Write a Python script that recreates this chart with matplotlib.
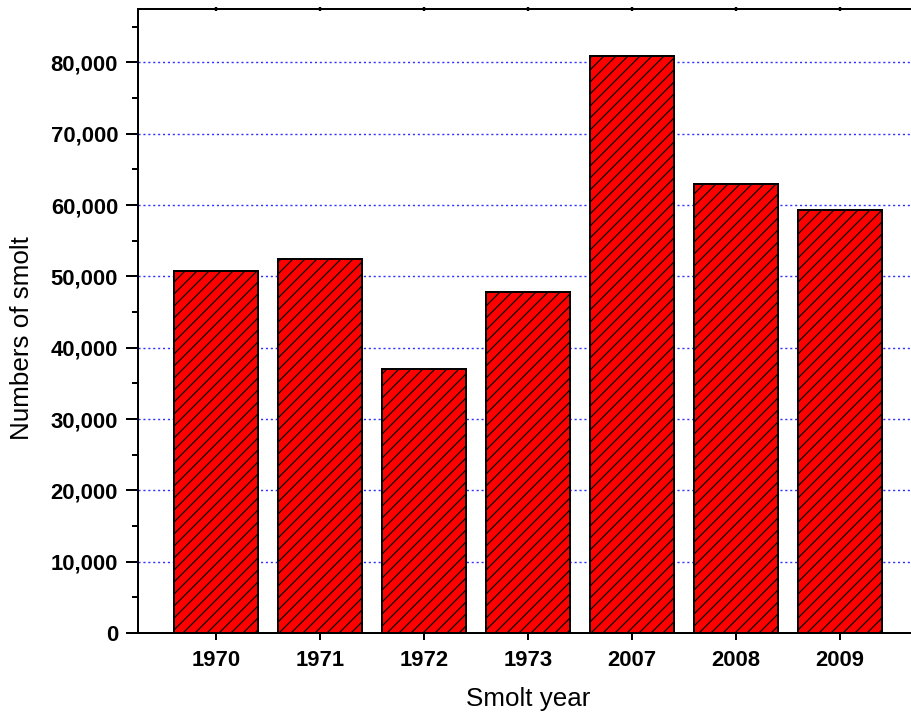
import matplotlib
matplotlib.use("Agg")
import matplotlib.pyplot as plt
from matplotlib.ticker import MultipleLocator, FuncFormatter

# smolt counts per year
years = ["1970", "1971", "1972", "1973", "2007", "2008", "2009"]
smolts = [50700, 52500, 37000, 47750, 80900, 62900, 59250]

plt.rcParams["font.family"] = ["Liberation Sans", "DejaVu Sans"]
plt.rcParams["hatch.linewidth"] = 0.6

DPI = 144
fig = plt.figure(figsize=(911 / DPI, 723 / DPI), dpi=DPI)
ax = fig.add_axes([138 / 911, 90 / 723, 780 / 911, 624 / 723])

x = range(len(years))
ax.bar(x, smolts, width=0.8, color="#ff0000", edgecolor="black",
       linewidth=1.0, hatch="////", zorder=3)

ax.set_xlim(-0.75, len(years) - 0.25)
ax.set_ylim(0, 87500)

ax.set_xticks(list(x))
ax.set_xticklabels(years, fontsize=11, fontweight="bold")
ax.yaxis.set_major_locator(MultipleLocator(10000))
ax.yaxis.set_minor_locator(MultipleLocator(5000))
ax.yaxis.set_major_formatter(FuncFormatter(lambda v, p: f"{int(v):,}"))
for lab in ax.get_yticklabels():
    lab.set_fontsize(11)
    lab.set_fontweight("bold")

ax.tick_params(axis="y", which="major", direction="out", length=6, width=1, pad=4)
ax.tick_params(axis="y", which="minor", direction="out", length=3, width=1)
ax.tick_params(axis="x", which="major", direction="out", length=3.5, width=1, pad=5)

# short ticks on the top frame line
top = ax.secondary_xaxis("top")
top.set_xticks(list(x))
top.set_xticklabels([])
top.tick_params(direction="inout", length=2, width=1.2)
top.spines["top"].set_linewidth(1.0)

for side in ["left", "bottom", "top"]:
    ax.spines[side].set_linewidth(1.0)
ax.spines["right"].set_visible(False)

# dotted horizontal grid behind the bars
ax.grid(axis="y", which="major", color="#3030ff", linestyle=(0, (1.5, 2.0)),
        linewidth=0.7, zorder=0)
ax.set_axisbelow(True)

ax.set_xlabel("Smolt year", fontsize=13, labelpad=8)
ax.set_ylabel("Numbers of smolt", fontsize=13)
ax.yaxis.set_label_coords(-0.133, 0.472)

fig.savefig("out.png", dpi=DPI)
